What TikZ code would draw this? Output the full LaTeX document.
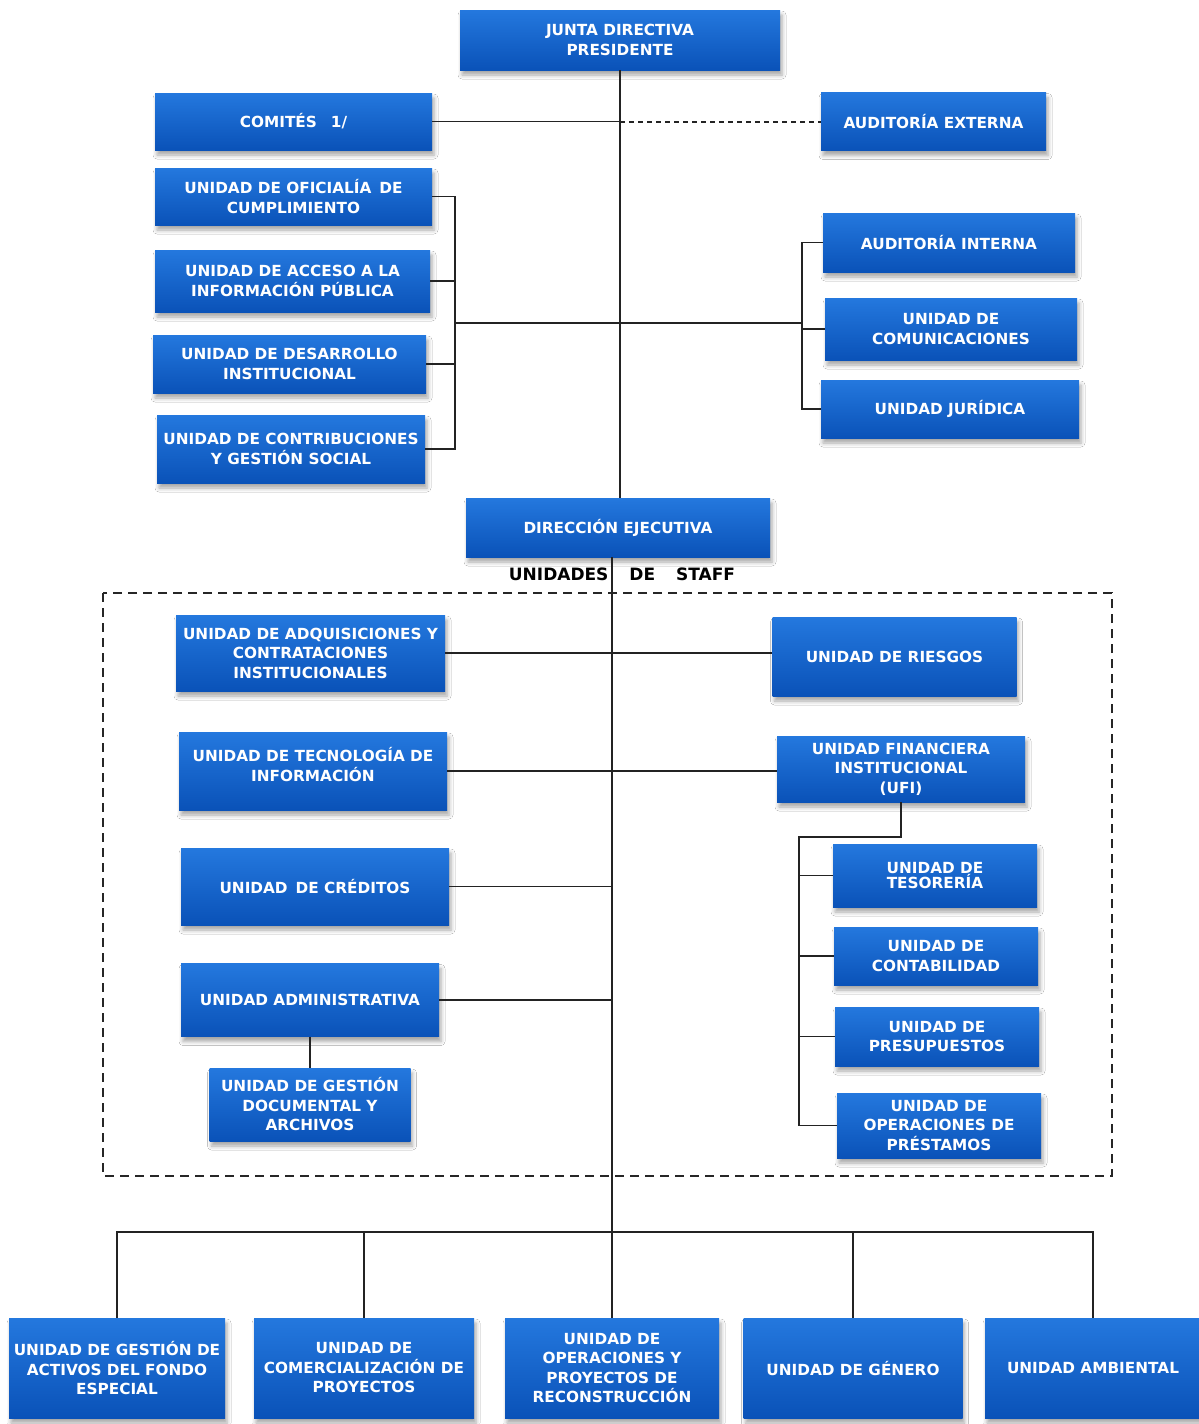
\documentclass[tikz,border=0pt]{standalone}
\usepackage{fontspec}
\newfontfamily\boxfont{DejaVu Sans}
\usetikzlibrary{shadows.blur}
\definecolor{btop}{RGB}{36,120,222}
\definecolor{bbot}{RGB}{10,82,184}
\definecolor{lnk}{RGB}{35,35,35}
\begin{document}
\begin{tikzpicture}[x=1pt,y=1pt,
  ubox/.style={rectangle, inner sep=1pt, align=center, text=white,
    font=\boxfont\bfseries\fontsize{15.3}{19.5}\selectfont,
    top color=btop, bottom color=bbot,
    blur shadow={shadow xshift=2pt, shadow yshift=-5pt, shadow blur radius=4pt, shadow opacity=35}},
  link/.style={draw=lnk, line width=1.4pt},
  dlink/.style={draw=lnk, line width=2pt, dash pattern=on 5pt off 4pt},
  frame/.style={draw=black!85, line width=1.8pt, dash pattern=on 9pt off 6pt},
  stafflabel/.style={font=\boxfont\bfseries\fontsize{17}{20}\selectfont, text=black}
]
\useasboundingbox (0,0) rectangle (1199,-1424);
\fill[white] (0,0) rectangle (1199,-1424);

% ---------- top part ----------
\node[ubox, minimum width=320pt, minimum height=60pt] (junta) at (620,-40) {JUNTA DIRECTIVA\\PRESIDENTE};
\node[ubox, minimum width=277pt, minimum height=57pt] (com) at (293.5,-121.5) {COMITÉS\hspace{14pt}1/};
\node[ubox, minimum width=225pt, minimum height=58pt] (audext) at (933.5,-121.5) {AUDITORÍA EXTERNA};
\node[ubox, minimum width=277pt, minimum height=57pt] (ofi) at (293.5,-196.5) {UNIDAD DE OFICIALÍA\hspace{8pt}DE\\CUMPLIMIENTO};
\node[ubox, minimum width=275pt, minimum height=62pt] (acc) at (292.5,-281) {UNIDAD DE ACCESO A LA\\INFORMACIÓN PÚBLICA};
\node[ubox, minimum width=273pt, minimum height=58pt] (des) at (289.5,-364) {UNIDAD DE DESARROLLO\\INSTITUCIONAL};
\node[ubox, minimum width=268pt, minimum height=68pt] (contr) at (291,-449) {UNIDAD DE CONTRIBUCIONES\\Y GESTIÓN SOCIAL};
\node[ubox, minimum width=252pt, minimum height=59pt] (audint) at (949,-242.5) {AUDITORÍA INTERNA};
\node[ubox, minimum width=252pt, minimum height=62pt] (comu) at (951,-329) {UNIDAD DE\\COMUNICACIONES};
\node[ubox, minimum width=258pt, minimum height=58pt] (jur) at (950,-409) {UNIDAD JURÍDICA};
\node[ubox, minimum width=304pt, minimum height=59pt] (dir) at (618,-527.5) {DIRECCIÓN EJECUTIVA};
\node[stafflabel] (staff) at (622,-574) {UNIDADES\hspace{21pt}DE\hspace{21pt}STAFF};

% ---------- staff frame ----------
\draw[frame] (103,-593) rectangle (1112,-1176);

\node[ubox, minimum width=269pt, minimum height=76pt] (adq) at (310.5,-653) {UNIDAD DE ADQUISICIONES Y\\CONTRATACIONES\\INSTITUCIONALES};
\node[ubox, minimum width=244pt, minimum height=79pt] (ries) at (894.5,-656.5) {UNIDAD DE RIESGOS};
\node[ubox, minimum width=268pt, minimum height=78pt] (tec) at (313,-771) {UNIDAD DE TECNOLOGÍA DE\\INFORMACIÓN\\[-6pt]\mbox{}};
\node[ubox, minimum width=248pt, minimum height=66pt] (ufi) at (901,-769) {UNIDAD FINANCIERA\\INSTITUCIONAL\\(UFI)};
\node[ubox, minimum width=268pt, minimum height=77pt] (cred) at (315,-886.5) {UNIDAD\hspace{8pt}DE CRÉDITOS};
\node[ubox, minimum width=204pt, minimum height=63pt] (tes) at (935,-875.5) {UNIDAD DE\\[-4pt]TESORERÍA};
\node[ubox, minimum width=204pt, minimum height=58pt] (cont) at (936,-956) {UNIDAD DE\\CONTABILIDAD};
\node[ubox, minimum width=204pt, minimum height=59pt] (pres) at (937,-1036.5) {UNIDAD DE\\PRESUPUESTOS};
\node[ubox, minimum width=204pt, minimum height=65pt] (opp) at (939,-1125.5) {UNIDAD DE\\OPERACIONES DE\\PRÉSTAMOS};
\node[ubox, minimum width=258pt, minimum height=73pt] (adm) at (310,-1000) {UNIDAD ADMINISTRATIVA};
\node[ubox, minimum width=201pt, minimum height=73pt] (gdoc) at (310,-1104.5) {UNIDAD DE GESTIÓN\\DOCUMENTAL Y\\ARCHIVOS};

% ---------- bottom row ----------
\node[ubox, minimum width=216pt, minimum height=100pt] (act) at (117,-1368) {UNIDAD DE GESTIÓN DE\\ACTIVOS DEL FONDO\\ESPECIAL};
\node[ubox, minimum width=220pt, minimum height=100pt] (comer) at (364,-1368) {UNIDAD DE\\COMERCIALIZACIÓN DE\\PROYECTOS};
\node[ubox, minimum width=214pt, minimum height=100pt] (ops) at (612,-1368) {UNIDAD DE\\OPERACIONES Y\\PROYECTOS DE\\RECONSTRUCCIÓN};
\node[ubox, minimum width=219pt, minimum height=100pt] (gen) at (853,-1368) {UNIDAD DE GÉNERO};
\node[ubox, minimum width=216pt, minimum height=100pt] (amb) at (1093,-1368) {UNIDAD AMBIENTAL};

% ---------- connectors ----------
\coordinate (mt) at (620,0);
\coordinate (mb) at (612,0);
\draw[link] (junta.south) -- (junta.south |- dir.north);
\draw[link] (com.east) -- (com.east -| mt);
\draw[dlink] (com.east -| mt) -- (audext.west);

\coordinate (lb) at (455,-323);
\coordinate (rb) at (802,-323);
\draw[link] (ofi.east) -- (ofi.east -| lb) -- (contr.east -| lb) -- (contr.east);
\draw[link] (acc.east) -- (acc.east -| lb);
\draw[link] (des.east) -- (des.east -| lb);
\draw[link] (lb) -- (rb);
\draw[link] (audint.west) -- (audint.west -| rb) -- (jur.west -| rb) -- (jur.west);
\draw[link] (comu.west) -- (comu.west -| rb);

\draw[link] (dir.south -| mb) -- (mb |- ops.north);
\draw[link] (adq.east) -- (adq.east -| ries.west);
\draw[link] (tec.east) -- (tec.east -| ufi.west);
\draw[link] (cred.east) -- (cred.east -| mb);
\draw[link] (adm.east) -- (adm.east -| mb);
\draw[link] (adm.south) -- (gdoc.north);

\coordinate (ub) at (799,-837);
\draw[link] (ufi.south) -- (ufi.south |- ub) -- (ub) -- (ub |- opp.west) -- (opp.west);
\draw[link] (tes.west) -- (tes.west -| ub);
\draw[link] (cont.west) -- (cont.west -| ub);
\draw[link] (pres.west) -- (pres.west -| ub);

\coordinate (hb) at (0,-1232);
\draw[link] (act.north) -- (act.north |- hb) -- (amb.north |- hb) -- (amb.north);
\draw[link] (comer.north) -- (comer.north |- hb);
\draw[link] (gen.north) -- (gen.north |- hb);
\end{tikzpicture}
\end{document}
